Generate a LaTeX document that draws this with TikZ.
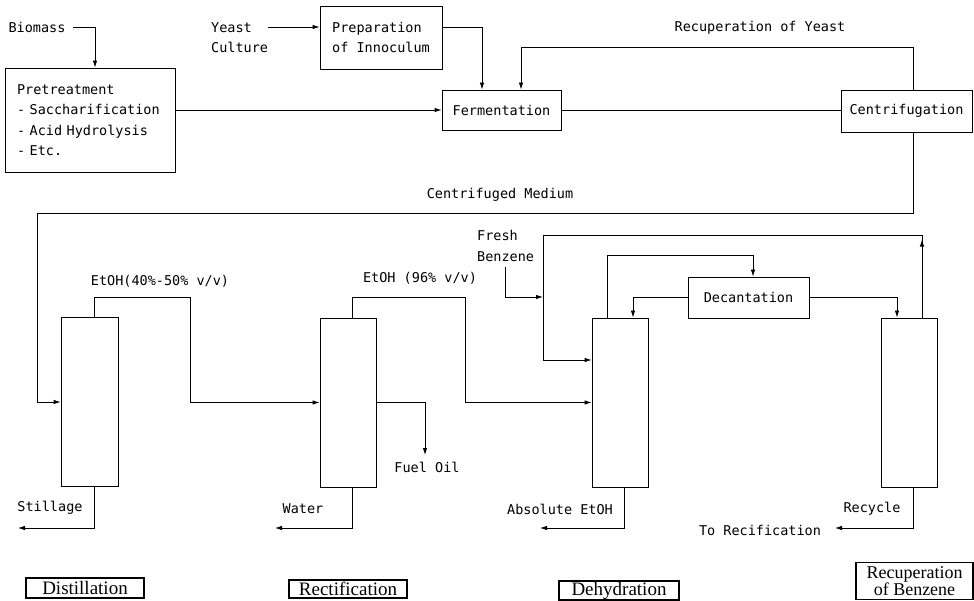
\documentclass[tikz,border=0pt]{standalone}
\usepackage{fontspec}
\newfontfamily\monofam{DejaVu Sans Mono}
\newfontfamily\seriffam{Liberation Serif}
\usetikzlibrary{arrows.meta}
\begin{document}
\begin{tikzpicture}[x=1pt,y=-1pt,
  every node/.style={font=\monofam\fontsize{13.5}{20.5}\selectfont, inner sep=0pt},
  box/.style={draw, line width=0.8pt, rectangle},
  col/.style={draw, line width=0.8pt, minimum width=56pt, minimum height=169pt},
  ln/.style={line width=0.8pt},
  arr/.style={ln, -{Latex[length=7pt,width=4.5pt]}},
  tag/.style={draw, line width=1.3pt, font=\seriffam\fontsize{19}{18}\selectfont, inner sep=0pt}]
\useasboundingbox (0,0) rectangle (974,601);

% top row
\node[inner xsep=7pt] (bio) at (37,27) {Biomass};
\node[box, minimum width=170pt, minimum height=104pt, text width=146pt, inner xsep=12pt, align=left] (pre) at (90,120)
  {Pretreatment\\- Saccharification\\- Acid Hydrolysis\\- Etc.};
\node[align=left, anchor=west] (yeast) at (211,37.5) {Yeast\\Culture};
\node[box, minimum width=122pt, minimum height=63pt, align=left] (prep) at (381,37.5) {Preparation\\of Innoculum};
\node[box, minimum width=119pt, minimum height=40pt] (ferm) at (501.5,110) {Fermentation};
\node[box, minimum width=131pt, minimum height=42pt] (cent) at (906.5,111) {Centrifugation};
\node (recy) at (760,28) {Recuperation of Yeast};
\node (cmed) at (500,195) {Centrifuged Medium};

% columns
\node[col, minimum width=57pt] (col1) at (89.5,402) {};
\node[col] (col2) at (348,402.5) {};
\node[col] (col3) at (620,402.5) {};
\node[col] (col4) at (909,402.5) {};
\node[box, minimum width=121pt, minimum height=41pt] (dec) at (748.5,297.5) {Decantation};

% labels
\node (etoh1) at (160,281) {EtOH(40\%-50\% v/v)};
\node (etoh2) at (420,278) {EtOH (96\% v/v)};
\node[align=left, anchor=west] (fresh) at (477,246) {Fresh\\Benzene};
\node (fuel) at (427,467) {Fuel Oil};
\coordinate (fuelend) at (425,455);
\node (still) at (50,508) {Stillage};
\node (water) at (303,509) {Water};
\node (abs) at (560,509) {Absolute EtOH};
\node (recyc) at (872,509) {Recycle};
\node (torec) at (760,530) {To Recification};

% bottom tags
\node[tag, minimum width=118pt, minimum height=20pt] (tdist) at (85,588) {Distillation};
\node[tag, minimum width=118pt, minimum height=18pt] (trect) at (348,589) {Rectification};
\node[tag, minimum width=120pt, minimum height=19pt] (tdehy) at (619,590.5) {Dehydration};
\node[tag, minimum width=117pt, minimum height=37pt, align=center, font=\seriffam\fontsize{18}{16.5}\selectfont] (trec) at (914.5,581) {Recuperation\\of Benzene};

% connectors top
\draw[arr] (bio.east) -| ([xshift=5pt]pre.north);
\draw[arr] ([yshift=10.5pt]yeast.east) -- ([yshift=10.5pt]prep.west);
\draw[arr] ([yshift=10.5pt]prep.east) -| ([xshift=-19.5pt]ferm.north);
\draw[arr] (ferm.west -| pre.east) -- (ferm.west);
\draw[ln] (ferm.east) -- (ferm.east -| cent.west);
\draw[arr] ([xshift=6.5pt]cent.north) -- ++(0,-42) -| ([xshift=19.5pt]ferm.north);
\draw[arr] ([xshift=6.5pt]cent.south) |- (37,213) |- (col1.west);

% distillation / rectification
\draw[arr] ([xshift=4.5pt]col1.north) |- (190,297) |- (col2.west);
\draw[arr] ([xshift=4pt]col2.north) |- (465,297) |- (col3.west);
\draw[arr] (col2.east) -| (fuelend);

% dehydration / benzene
\draw[arr] ([yshift=-5pt]fresh.south) |- (543,297);
\draw[arr] ([xshift=13pt]col4.north) |- (543,235) |- ([yshift=42.5pt]col3.west);
\draw[arr] ([xshift=13pt]col4.north) -- ++(0,-78);
\draw[arr] ([xshift=-13pt]col3.north) -- ++(0,-62) -| ([xshift=4.5pt]dec.north);
\draw[arr] (dec.west) -| ([xshift=13pt]col3.north);
\draw[arr] (dec.east) -| ([xshift=-12pt]col4.north);

% bottoms
\draw[arr] ([xshift=4.5pt]col1.south) |- (18,528);
\draw[arr] ([xshift=4pt]col2.south) |- (275,528);
\draw[arr] ([xshift=4pt]col3.south) |- (540,528);
\draw[arr] ([xshift=4pt]col4.south) |- (835,528);
\end{tikzpicture}
\end{document}
